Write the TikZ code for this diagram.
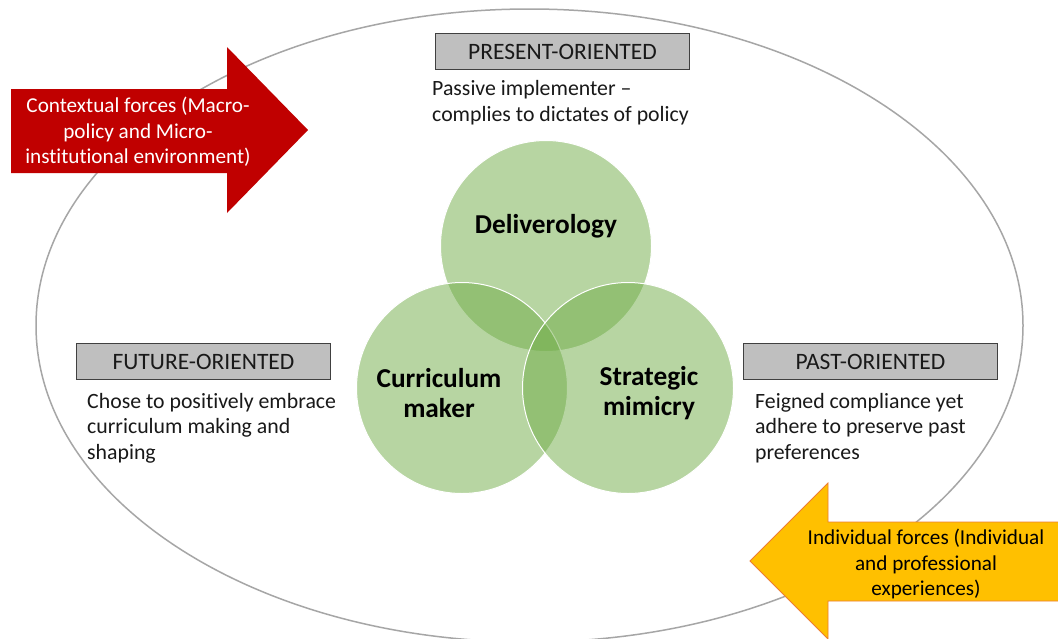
\documentclass[tikz,border=0pt]{standalone}
\usepackage{fontspec}
\setmainfont[Ligatures=NoCommon]{Carlito}
\begin{document}
\begin{tikzpicture}[x=1pt,y=-1pt,
  body/.style={font=\fontsize{21.8}{25.5}\selectfont, text=black!90, align=left, anchor=base west, inner sep=0pt},
  orient/.style={draw=black!75, line width=1pt, fill=black!25, minimum width=254pt, minimum height=36pt, inner sep=0pt, font=\fontsize{23.5}{26}\selectfont, text=black!90, anchor=north west},
  venn/.style={circle, minimum size=211pt, inner sep=0pt, fill=vgreen, fill opacity=0.5, draw=white, draw opacity=1, line width=1pt},
  vlabel/.style={font=\bfseries\fontsize{27.3}{30}\selectfont, align=center, text opacity=1, text=black},
  arrowtext/.style={font=\fontsize{21.2}{25.5}\selectfont, align=center, inner sep=0pt}
]
\definecolor{vgreen}{HTML}{70AD47}
\definecolor{redarrow}{HTML}{C00000}
\definecolor{yelarrow}{HTML}{FFC000}
\definecolor{yeledge}{HTML}{ED7D31}
\definecolor{ellgray}{HTML}{A6A6A6}
\useasboundingbox (0,0) rectangle (1058,638);
\fill[white] (0,0) rectangle (1058,638);

% outer ellipse
\draw[ellgray, line width=1.5pt] (529.5,325.5) ellipse [x radius=493.5, y radius=316.5];

% Venn circles
\node[venn] (top) at (546,246) {};
\node[venn] (left) at (462,388) {};
\node[venn] (right) at (628,388) {};
\node[vlabel] (toplab) at (546,226) {Deliverology};
\node[vlabel] (leftlab) at (439,393) {Curriculum\\maker};
\node[vlabel] (rightlab) at (649,393) {Strategic\\mimicry};

% orientation boxes
\node[orient] (present) at (435,33) {PRESENT-ORIENTED};
\node[orient] (future) at (76,343) {FUTURE-ORIENTED};
\node[orient] (past) at (743,343) {PAST-ORIENTED};

\node[body] (presenttext) at (432,121) {Passive implementer --\\complies to dictates of policy};
\node[body] (futuretext) at (87,459) {Chose to positively embrace\\curriculum making and\\shaping};
\node[body] (pasttext) at (755,459) {Feigned compliance yet\\adhere to preserve past\\preferences};

% contextual forces arrow
\fill[redarrow] (11,89) -- (227,89) -- (227,47) -- (308,130) -- (227,213) -- (227,173) -- (11,173) -- cycle;
\node[arrowtext, text=white] (ctx) at (138,132) {Contextual forces (Macro-\\policy and Micro-\\institutional environment)};

% individual forces arrow
\draw[yeledge, fill=yelarrow, line width=0.8pt] (1070,522) -- (828,522) -- (828,483) -- (750,561) -- (828,639) -- (828,601) -- (1070,601) -- cycle;
\node[arrowtext, text=black] (ind) at (926,564) {Individual forces (Individual\\and professional\\experiences)};
\end{tikzpicture}
\end{document}
